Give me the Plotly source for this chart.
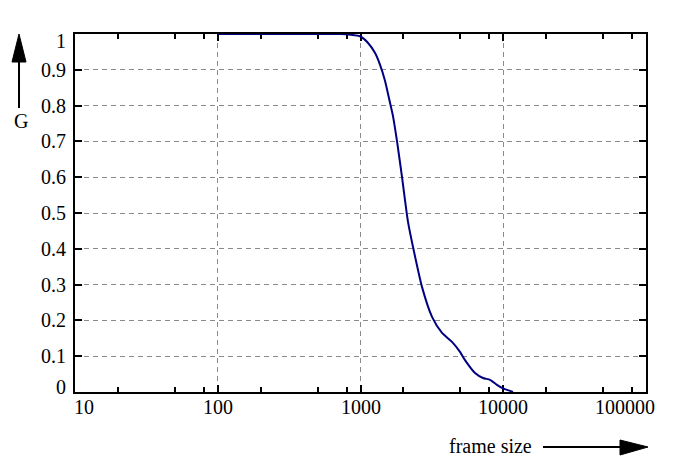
"""Fraction G versus frame size (log scale)."""

import plotly.graph_objects as go

# curve
frame_size = [100, 500, 724, 850, 1000, 1130, 1265, 1371, 1486, 1611, 1690, 1803,
              1954, 2050, 2152, 2333, 2699, 3170, 3724, 4376, 4978, 5397, 6342,
              7215, 8078, 9036, 9954, 11150, 11700]
g_values = [1.0, 1.0, 1.0, 0.998, 0.993, 0.975, 0.947, 0.914, 0.869, 0.807, 0.77, 0.70,
            0.60, 0.536, 0.475, 0.405, 0.293, 0.21, 0.165, 0.14, 0.112, 0.089, 0.053,
            0.039, 0.034, 0.02, 0.01, 0.003, 0.0]

x_ticks = [10, 100, 1000, 10000, 100000]
x_tick_labels = ["10", "100", "1000", "10000", "100000"]
x_minor = [m * d for d in (10, 100, 1000, 10000) for m in (2, 5, 8)]
y_ticks = [0, 0.1, 0.2, 0.3, 0.4, 0.5, 0.6, 0.7, 0.8, 0.9, 1]
y_tick_labels = ["0", "0.1", "0.2", "0.3", "0.4", "0.5", "0.6", "0.7", "0.8", "0.9", "1"]

# page coordinates of the reference; the html body adds an 8px margin
OFF = 8
W, H = 698 - 2 * OFF, 467 - 2 * OFF
L, R, T, B = 75 - OFF, 646 - OFF, 34 - OFF, 392 - OFF
FONT = dict(family="Liberation Serif, Times New Roman, serif", size=20, color="black")


def px(x):
    return (x - OFF - L) / (R - L)


def py(y):
    return (B - (y - OFF)) / (B - T)


fig = go.Figure()
fig.add_trace(go.Scatter(
    x=frame_size, y=g_values, mode="lines",
    line=dict(color="#000080", width=2, shape="spline", smoothing=0.6),
    showlegend=False, cliponaxis=False,
))

grid = dict(showgrid=True, gridcolor="#8a8a8a", gridwidth=1, griddash="5px,4px")
axis = dict(ticks="inside", ticklen=7, tickwidth=1.5, tickcolor="black",
            showticklabels=False, showline=True, linecolor="black", linewidth=2,
            mirror="allticks", zeroline=False, layer="below traces", **grid)
fig.update_xaxes(
    type="log", range=[1, 5], tickvals=x_ticks,
    minor=dict(tickvals=x_minor, ticks="inside", ticklen=5, tickwidth=1.5,
               tickcolor="black", showgrid=False),
    **axis,
)
fig.update_yaxes(range=[0, 1], tickvals=y_ticks, **axis)

# tick labels (end labels pulled inward as in the original)
x_label_shift = {0: 9, 4: -21}
for i, (v, t) in enumerate(zip(x_ticks, x_tick_labels)):
    fig.add_annotation(
        x=len(str(v)) - 1, y=py(407), xref="x", yref="paper", text=t,
        showarrow=False, xanchor="center", yanchor="middle",
        xshift=x_label_shift.get(i, 0), font=FONT,
    )
y_label_shift = {0: 5, len(y_ticks) - 1: -7}
for i, (v, t) in enumerate(zip(y_ticks, y_tick_labels)):
    fig.add_annotation(
        x=px(68), y=v, xref="paper", yref="y", text=t,
        showarrow=False, xanchor="right", yanchor="middle",
        yshift=y_label_shift.get(i, 0), font=FONT,
    )

# axis captions with arrows
caption = dict(xref="paper", yref="paper", showarrow=False, font=FONT,
               xanchor="center", yanchor="middle")
fig.add_annotation(x=px(21), y=py(121), text="G", **caption)
fig.add_annotation(x=px(490), y=py(446), text="frame size", **caption)

arrow = dict(xref="paper", yref="paper", line=dict(color="black", width=2))
fig.add_shape(type="line", x0=px(19), x1=px(19), y0=py(108), y1=py(58), **arrow)
fig.add_shape(type="path", fillcolor="black",
              path=f"M {px(12)},{py(62)} L {px(19)},{py(34)} L {px(26)},{py(62)} Z",
              xref="paper", yref="paper", line=dict(color="black", width=1))
fig.add_shape(type="line", x0=px(543), x1=px(625), y0=py(447), y1=py(447), **arrow)
fig.add_shape(type="path", fillcolor="black",
              path=f"M {px(620)},{py(440)} L {px(648)},{py(447)} L {px(620)},{py(455)} Z",
              xref="paper", yref="paper", line=dict(color="black", width=1))

fig.update_layout(
    width=W, height=H,
    margin=dict(l=L, r=W - R, t=T, b=H - B),
    plot_bgcolor="white", paper_bgcolor="white",
    font=FONT,
)

fig.write_html("out.html")
